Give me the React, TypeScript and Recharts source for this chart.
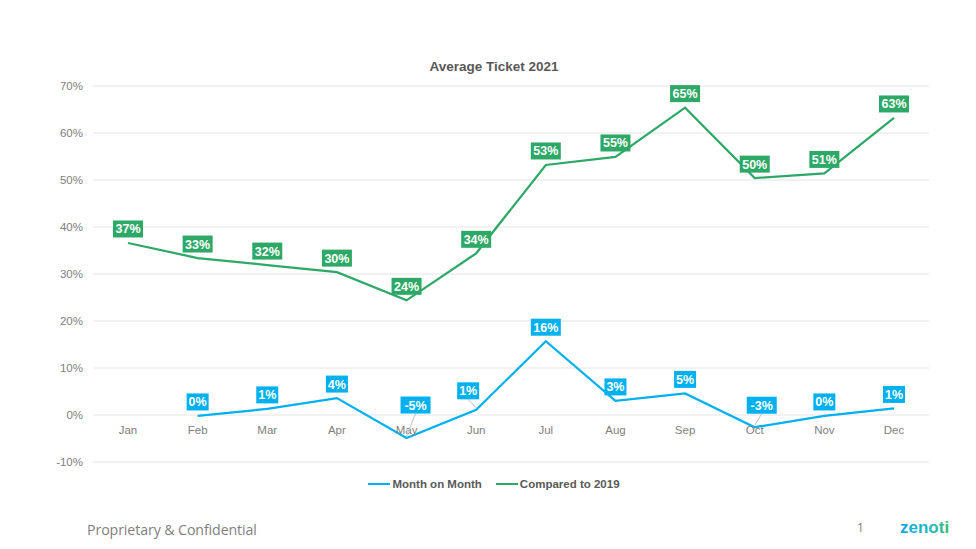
import React from 'react';
import { LineChart, Line, XAxis, YAxis, CartesianGrid } from 'recharts';

const months = ['Jan', 'Feb', 'Mar', 'Apr', 'May', 'Jun', 'Jul', 'Aug', 'Sep', 'Oct', 'Nov', 'Dec'];
const monthOnMonth = [null, -0.2, 1.3, 3.6, -4.9, 1.1, 15.7, 3.0, 4.6, -2.6, -0.2, 1.4];
const comparedTo2019 = [36.6, 33.4, 31.9, 30.4, 24.4, 34.4, 53.2, 54.9, 65.4, 50.4, 51.4, 63.2];
const yTicks = [-10, 0, 10, 20, 30, 40, 50, 60, 70];

const BLUE = '#00B0F0';
const GREEN = '#2EA866';
const FONT = '"Liberation Sans", Arial, sans-serif';

const data = months.map((m, i) => ({
  month: m,
  mom: monthOnMonth[i],
  vs2019: comparedTo2019[i],
}));

// a few blue labels sit off the point in the original, with a leader line
const blueNudges: Record<number, { dx: number; dy: number }> = {
  4: { dx: 9, dy: -33 },
  5: { dx: -8, dy: -19 },
  9: { dx: 7, dy: -22 },
};

function BoxLabel(props: any) {
  const { x, y, value, index, color, nudges } = props;
  if (value == null || x == null || y == null) return null;
  const text = `${Math.round(value)}%`;
  const n = (nudges && nudges[index]) || { dx: 0, dy: -14 };
  const cx = x + n.dx;
  const cy = y + n.dy;
  const w = text.length * 8 + 6;
  const h = 17;
  const leader = nudges && nudges[index];
  return (
    <g>
      {leader && (
        <line x1={cx} y1={cy + h / 2} x2={x} y2={y - 2} stroke="#bfbfbf" strokeWidth={1} />
      )}
      <rect x={cx - w / 2} y={cy - h / 2} width={w} height={h} fill={color} />
      <text
        x={cx}
        y={cy + 4.5}
        textAnchor="middle"
        fill="#fff"
        fontFamily={FONT}
        fontWeight="bold"
        fontSize={12.5}
      >
        {text}
      </text>
    </g>
  );
}

function MonthTick(props: any) {
  const { x, y, payload } = props;
  return (
    <text x={x} y={y - 28} textAnchor="middle" fill="#808080" fontFamily={FONT} fontSize={11.5}>
      {payload.value}
    </text>
  );
}

export default function App() {
  return (
    <div
      style={{
        position: 'fixed',
        top: 0,
        left: 0,
        width: 976,
        height: 549,
        background: '#fff',
        overflow: 'hidden',
      }}
    >
      <div
        style={{
          position: 'absolute',
          top: 59,
          left: 0,
          width: 988,
          textAlign: 'center',
          fontFamily: FONT,
          fontWeight: 'bold',
          fontSize: 13.5,
          color: '#595959',
        }}
      >
        Average Ticket 2021
      </div>

      <LineChart
        width={976}
        height={549}
        data={data}
        margin={{ top: 86, right: 47, bottom: 57, left: 43 }}
      >
        <CartesianGrid vertical={false} stroke="#e4e4e4" strokeWidth={1} />
        <XAxis
          dataKey="month"
          height={30}
          axisLine={false}
          tickLine={false}
          tickSize={0}
          tickMargin={0}
          padding={{ left: 35, right: 35 }}
          tick={<MonthTick />}
          interval={0}
        />
        <YAxis
          width={50}
          domain={[-10, 70]}
          ticks={yTicks}
          axisLine={false}
          tickLine={false}
          tickMargin={4}
          tickFormatter={(v) => `${v}%`}
          tick={{ fill: '#808080', fontSize: 11.5, fontFamily: FONT }}
        />
        <Line
          dataKey="mom"
          stroke={BLUE}
          strokeWidth={2.25}
          dot={false}
          isAnimationActive={false}
          label={<BoxLabel color={BLUE} nudges={blueNudges} />}
        />
        <Line
          dataKey="vs2019"
          stroke={GREEN}
          strokeWidth={2.25}
          dot={false}
          isAnimationActive={false}
          label={<BoxLabel color={GREEN} />}
        />
      </LineChart>

      <div
        style={{
          position: 'absolute',
          top: 478,
          left: 0,
          width: 988,
          display: 'flex',
          justifyContent: 'center',
          gap: 14,
          fontFamily: FONT,
          fontWeight: 'bold',
          fontSize: 11.5,
          color: '#595959',
        }}
      >
        {[
          { name: 'Month on Month', color: BLUE },
          { name: 'Compared to 2019', color: GREEN },
        ].map((item) => (
          <div key={item.name} style={{ display: 'flex', alignItems: 'center' }}>
            <span
              style={{ display: 'inline-block', width: 22, height: 2, background: item.color, marginRight: 2 }}
            />
            {item.name}
          </div>
        ))}
      </div>

      <div
        style={{
          position: 'absolute',
          top: 520,
          left: 87,
          fontFamily: '"Open Sans", sans-serif',
          fontSize: 14.2,
          color: '#7f7f7f',
          letterSpacing: -0.1,
        }}
      >
        Proprietary &amp; Confidential
      </div>
      <div
        style={{
          position: 'absolute',
          top: 519,
          left: 857,
          fontFamily: '"Open Sans", sans-serif',
          fontSize: 12,
          color: '#7f7f7f',
        }}
      >
        1
      </div>
      <svg style={{ position: 'absolute', top: 514, left: 897 }} width={60} height={26}>
        <defs>
          <linearGradient id="zg" x1="0" x2="1" y1="0" y2="0">
            <stop offset="0" stopColor="#1aa8e0" />
            <stop offset="0.6" stopColor="#22b6c2" />
            <stop offset="1" stopColor="#3cbb6e" />
          </linearGradient>
        </defs>
        <text x={3} y={19} fill="url(#zg)" fontFamily={FONT} fontWeight="bold" fontSize={17}>
          zenoti
        </text>
      </svg>
    </div>
  );
}
